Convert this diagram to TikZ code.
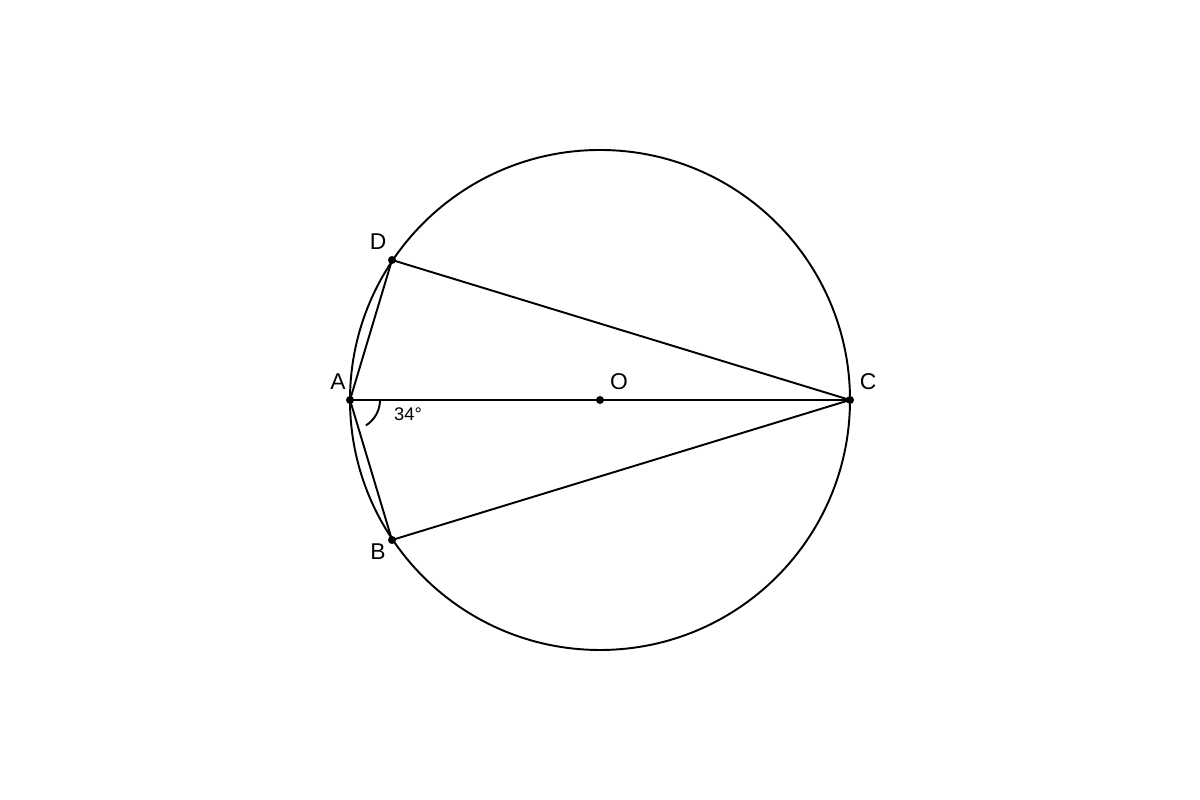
\documentclass[tikz,border=0pt]{standalone}
\usepackage{fontspec}
\setmainfont{Liberation Sans}
\begin{document}
\begin{tikzpicture}[line width=0.55pt,
	pt/.style={circle, fill=black, inner sep=0pt, minimum size=0.08cm},
	lbl/.style={font=\fontsize{6.5}{7.5}\selectfont, inner sep=0pt}]
	\useasboundingbox (0, 0) rectangle (12, 8);
	\coordinate (O) at (6, 4);
	\coordinate (A) at (3.5, 4);
	\coordinate (C) at (8.5, 4);
	\coordinate (D) at (3.92, 5.4);
	\coordinate (B) at (3.92, 2.6);
	\draw (O) circle (2.5);
	\draw (A) -- (C);
	\draw (A) -- (D) -- (C);
	\draw (A) -- (B) -- (C);
	\draw ([shift={(0:0.3)}]A) arc (0:-58:0.3);
	\node[pt] at (A) {};
	\node[pt] at (B) {};
	\node[pt] at (C) {};
	\node[pt] at (D) {};
	\node[pt] at (O) {};
	\node[lbl] (lA) at (3.38, 4.18) {A};
	\node[lbl] (lD) at (3.78, 5.58) {D};
	\node[lbl] (lB) at (3.78, 2.48) {B};
	\node[lbl] (lO) at (6.19, 4.18) {O};
	\node[lbl] (lC) at (8.68, 4.18) {C};
	\node[lbl, font=\fontsize{5.2}{6}\selectfont] (ang) at (4.08, 3.86) {34°};
\end{tikzpicture}
\end{document}
